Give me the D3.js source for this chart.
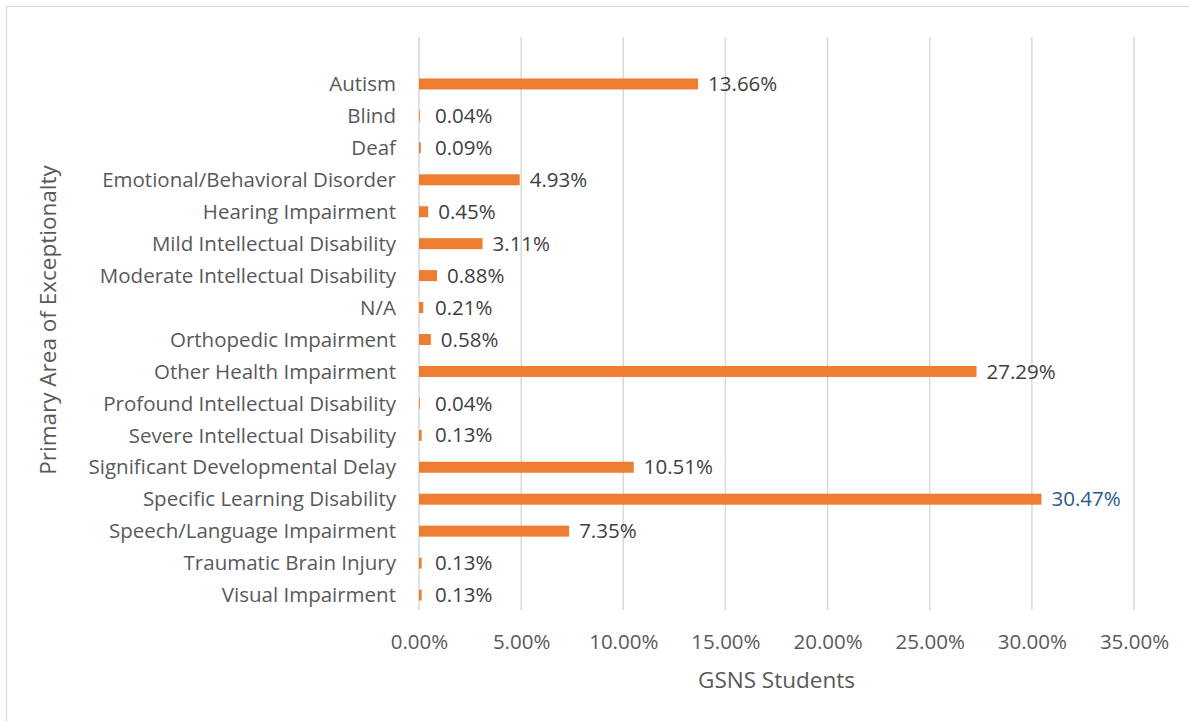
<!DOCTYPE html>
<html>
<head>
<meta charset="utf-8">
<script src="https://cdn.jsdelivr.net/npm/d3@7"></script>
<style>
  html, body { margin: 0; padding: 0; background: #fff; }
  svg { display: block; }
  text { font-family: "Open Sans", sans-serif; fill: #595959; }
</style>
</head>
<body>
<svg id="chart" width="1189" height="721"></svg>
<script>
const categories = [
  "Autism", "Blind", "Deaf", "Emotional/Behavioral Disorder", "Hearing Impairment",
  "Mild Intellectual Disability", "Moderate Intellectual Disability", "N/A",
  "Orthopedic Impairment", "Other Health Impairment", "Profound Intellectual Disability",
  "Severe Intellectual Disability", "Significant Developmental Delay",
  "Specific Learning Disability", "Speech/Language Impairment", "Traumatic Brain Injury",
  "Visual Impairment"
];
const values = [13.66, 0.04, 0.09, 4.93, 0.45, 3.11, 0.88, 0.21, 0.58, 27.29, 0.04, 0.13, 10.51, 30.47, 7.35, 0.13, 0.13];
const xTicks = [0, 5, 10, 15, 20, 25, 30, 35];
const xTitle = "GSNS Students";
const yTitle = "Primary Area of Exceptionalty";
const highlighted = "Specific Learning Disability";

const svg = d3.select("#chart");

// chart border (top/left visible)
svg.append("rect").attr("x", 6.5).attr("y", 6.5).attr("width", 1200).attr("height", 800)
  .attr("fill", "none").attr("stroke", "#d9d9d9").attr("stroke-width", 1.2);

const x = d3.scaleLinear().domain([0, 35]).range([419, 1134]);
const y = d3.scaleBand().domain(categories).range([68, 611]).paddingInner(0.656).paddingOuter(0.328);
const gridTop = 37, gridBottom = 610;

// gridlines
svg.append("g").selectAll("line").data(xTicks).join("line")
  .attr("x1", d => x(d)).attr("x2", d => x(d))
  .attr("y1", gridTop).attr("y2", gridBottom)
  .attr("stroke", "#d9d9d9").attr("stroke-width", 1.5);

// x axis tick labels
const xAxis = d3.axisBottom(x).tickValues(xTicks).tickSize(0).tickPadding(0)
  .tickFormat(d => d.toFixed(2) + "%");
const gx = svg.append("g").attr("transform", "translate(0,642)").call(xAxis);
gx.select(".domain").remove();
gx.selectAll("text").attr("font-size", 20.5).attr("dy", "0.35em")
  .style("font-family", "'Open Sans', sans-serif").attr("fill", "#595959");

// y axis category labels
const yAxis = d3.axisLeft(y).tickSize(0).tickPadding(0);
const gy = svg.append("g").attr("transform", "translate(396,0)").call(yAxis);
gy.select(".domain").remove();
gy.selectAll("text").attr("font-size", 20.5).attr("dy", "0.35em")
  .style("font-family", "'Open Sans', sans-serif").attr("fill", "#595959");

// bars
svg.append("g").selectAll("rect").data(categories).join("rect")
  .attr("x", x(0))
  .attr("y", d => y(d))
  .attr("width", (d, i) => x(values[i]) - x(0))
  .attr("height", y.bandwidth())
  .attr("fill", "#ED7D31");

// data labels
svg.append("g").selectAll("text").data(categories).join("text")
  .attr("x", (d, i) => Math.max(x(0) + 16, x(values[i]) + 10))
  .attr("y", d => y(d) + y.bandwidth() / 2)
  .attr("dy", "0.35em")
  .attr("font-size", 20.5)
  .style("fill", d => d === highlighted ? "#2B5B8C" : "#404040")
  .text((d, i) => values[i].toFixed(2) + "%");

// axis titles
svg.append("text").attr("x", (x(0) + x(35)) / 2).attr("y", 680).attr("dy", "0.35em")
  .attr("text-anchor", "middle").attr("font-size", 22.5).text(xTitle);
svg.append("text").attr("transform", "translate(48,320) rotate(-90)")
  .attr("text-anchor", "middle").attr("dy", "0.35em").attr("font-size", 22.5).text(yTitle);
</script>
</body>
</html>
